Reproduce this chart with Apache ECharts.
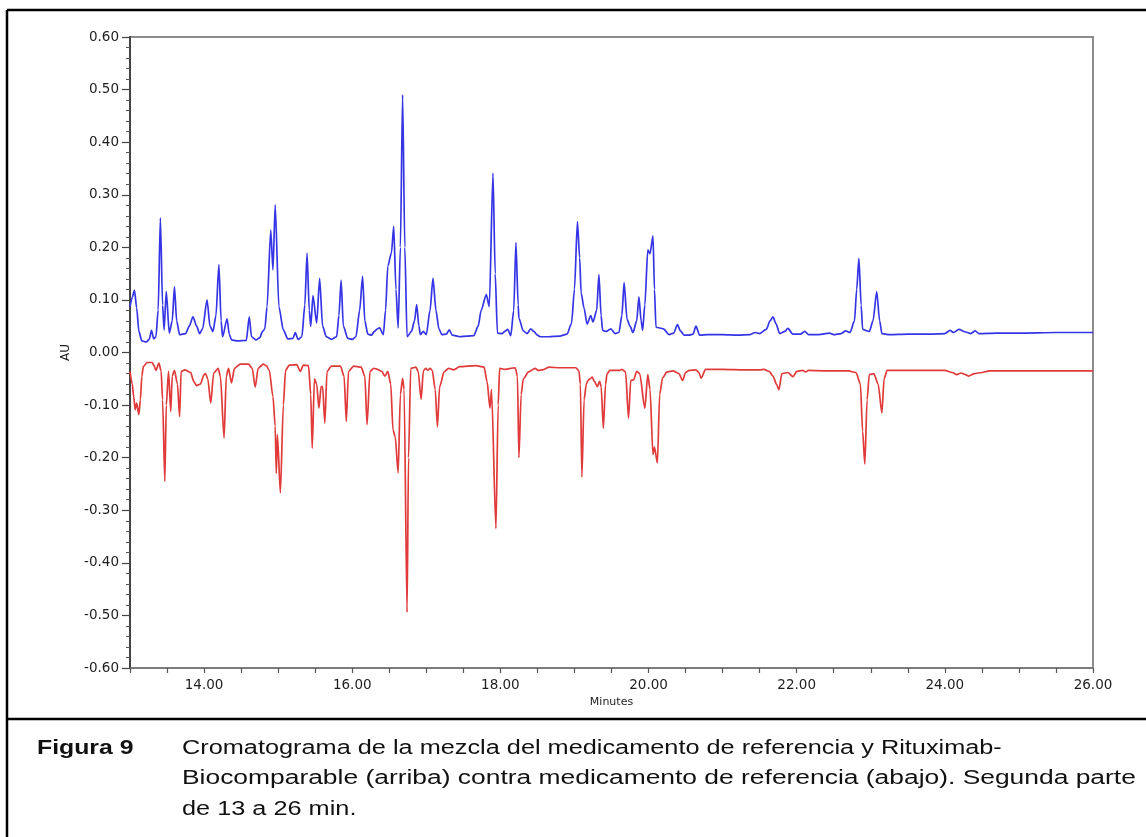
<!DOCTYPE html>
<html>
<head>
<meta charset="utf-8">
<title>Cromatograma</title>
<script src="https://cdn.jsdelivr.net/npm/echarts@6/dist/echarts.min.js"></script>
<style>
  html, body { margin: 0; padding: 0; background: #ffffff; }
  #chart { width: 1146px; height: 837px; }
</style>
</head>
<body>
<div id="chart"></div>
<script>
// Upper trace: mixture of reference product and Rituximab-Biocomparable (time in min, AU)
const mixTime = [
  13.00, 13.03, 13.06, 13.09, 13.12, 13.16, 13.22, 13.26, 13.29, 13.32, 13.35, 13.38, 13.41, 13.44, 13.46,
  13.49, 13.53, 13.57, 13.60, 13.63, 13.67, 13.75, 13.80, 13.85, 13.90, 13.94, 13.98, 14.04, 14.08, 14.12,
  14.16, 14.20, 14.23, 14.25, 14.31, 14.34, 14.37, 14.45, 14.57, 14.61, 14.64, 14.70, 14.75, 14.79, 14.82,
  14.85, 14.90, 14.93, 14.96, 15.01, 15.07, 15.13, 15.20, 15.23, 15.27, 15.32, 15.36, 15.39, 15.42, 15.44,
  15.47, 15.52, 15.56, 15.60, 15.65, 15.72, 15.79, 15.82, 15.85, 15.88, 15.94, 16.00, 16.05, 16.10, 16.14,
  16.17, 16.21, 16.26, 16.30, 16.34, 16.37, 16.42, 16.45, 16.48, 16.53, 16.56, 16.59, 16.62, 16.65, 16.68,
  16.71, 16.74, 16.80, 16.84, 16.87, 16.90, 16.92, 16.96, 17.00, 17.05, 17.09, 17.13, 17.17, 17.21, 17.27,
  17.31, 17.35, 17.45, 17.55, 17.64, 17.70, 17.74, 17.81, 17.85, 17.90, 17.93, 17.96, 18.02, 18.06, 18.10,
  18.14, 18.18, 18.21, 18.24, 18.25, 18.31, 18.36, 18.41, 18.45, 18.50, 18.54, 18.65, 18.80, 18.90, 18.96,
  19.00, 19.04, 19.07, 19.09, 19.13, 19.17, 19.22, 19.25, 19.30, 19.33, 19.36, 19.38, 19.43, 19.49, 19.55,
  19.60, 19.64, 19.67, 19.71, 19.75, 19.79, 19.84, 19.87, 19.90, 19.92, 19.95, 19.99, 20.02, 20.06, 20.08,
  20.10, 20.20, 20.28, 20.34, 20.39, 20.43, 20.48, 20.55, 20.60, 20.64, 20.69, 20.80, 21.00, 21.20, 21.37,
  21.44, 21.50, 21.59, 21.64, 21.68, 21.72, 21.77, 21.84, 21.88, 21.95, 22.05, 22.11, 22.16, 22.30, 22.44,
  22.50, 22.60, 22.66, 22.72, 22.78, 22.81, 22.84, 22.87, 22.89, 22.98, 23.03, 23.08, 23.12, 23.15, 23.25,
  23.50, 23.80, 24.00, 24.07, 24.12, 24.19, 24.28, 24.35, 24.41, 24.46, 24.70, 25.00, 25.50, 26.00
];
const mixAU = [
  0.087, 0.105, 0.118, 0.085, 0.040, 0.022, 0.020, 0.025, 0.042, 0.026, 0.030, 0.080, 0.256, 0.090, 0.043,
  0.116, 0.037, 0.060, 0.125, 0.060, 0.034, 0.036, 0.050, 0.068, 0.050, 0.036, 0.045, 0.100, 0.050, 0.040,
  0.070, 0.167, 0.060, 0.030, 0.064, 0.035, 0.024, 0.022, 0.023, 0.068, 0.030, 0.024, 0.028, 0.040, 0.045,
  0.087, 0.233, 0.157, 0.281, 0.087, 0.043, 0.026, 0.027, 0.038, 0.025, 0.030, 0.090, 0.189, 0.080, 0.050,
  0.108, 0.056, 0.141, 0.050, 0.030, 0.025, 0.030, 0.070, 0.137, 0.050, 0.027, 0.025, 0.030, 0.080, 0.145,
  0.060, 0.035, 0.033, 0.040, 0.045, 0.047, 0.034, 0.080, 0.164, 0.190, 0.240, 0.120, 0.047, 0.200, 0.490,
  0.200, 0.030, 0.040, 0.060, 0.091, 0.050, 0.034, 0.040, 0.034, 0.080, 0.141, 0.080, 0.045, 0.034, 0.035,
  0.043, 0.033, 0.030, 0.031, 0.032, 0.050, 0.080, 0.110, 0.087, 0.341, 0.150, 0.037, 0.036, 0.040, 0.044,
  0.032, 0.080, 0.209, 0.090, 0.065, 0.041, 0.036, 0.045, 0.040, 0.033, 0.030, 0.030, 0.031, 0.035, 0.055,
  0.120, 0.249, 0.180, 0.113, 0.084, 0.054, 0.070, 0.058, 0.080, 0.148, 0.070, 0.042, 0.040, 0.045, 0.036,
  0.038, 0.070, 0.133, 0.063, 0.050, 0.038, 0.060, 0.106, 0.060, 0.042, 0.090, 0.195, 0.188, 0.222, 0.120,
  0.048, 0.045, 0.034, 0.037, 0.053, 0.041, 0.033, 0.033, 0.035, 0.050, 0.033, 0.034, 0.034, 0.033, 0.034,
  0.038, 0.036, 0.044, 0.060, 0.068, 0.055, 0.036, 0.040, 0.046, 0.035, 0.035, 0.040, 0.034, 0.034, 0.037,
  0.034, 0.036, 0.041, 0.038, 0.060, 0.120, 0.179, 0.090, 0.044, 0.040, 0.060, 0.116, 0.060, 0.036, 0.034,
  0.035, 0.035, 0.036, 0.042, 0.038, 0.044, 0.039, 0.036, 0.041, 0.036, 0.037, 0.037, 0.038, 0.038
];

// Lower trace: reference product alone, plotted inverted (time in min, AU)
const refTime = [
  13.00, 13.03, 13.05, 13.07, 13.09, 13.12, 13.14, 13.16, 13.18, 13.23, 13.30, 13.32, 13.35, 13.39, 13.42,
  13.44, 13.47, 13.49, 13.52, 13.55, 13.57, 13.60, 13.64, 13.67, 13.69, 13.74, 13.82, 13.86, 13.90, 13.95,
  14.00, 14.02, 14.05, 14.09, 14.13, 14.19, 14.22, 14.27, 14.30, 14.33, 14.37, 14.41, 14.49, 14.60, 14.65,
  14.69, 14.73, 14.80, 14.84, 14.88, 14.93, 14.96, 14.975, 14.99, 15.03, 15.07, 15.10, 15.15, 15.25, 15.30,
  15.34, 15.41, 15.44, 15.46, 15.49, 15.52, 15.55, 15.58, 15.60, 15.63, 15.66, 15.72, 15.84, 15.89, 15.92,
  15.95, 16.02, 16.12, 16.17, 16.20, 16.24, 16.29, 16.34, 16.40, 16.44, 16.48, 16.52, 16.55, 16.58, 16.62,
  16.65, 16.68, 16.70, 16.74, 16.76, 16.79, 16.86, 16.89, 16.93, 16.96, 16.99, 17.02, 17.05, 17.08, 17.12,
  17.15, 17.18, 17.24, 17.30, 17.37, 17.45, 17.67, 17.78, 17.82, 17.86, 17.88, 17.94, 17.97, 17.99, 18.06,
  18.14, 18.20, 18.23, 18.25, 18.28, 18.31, 18.38, 18.47, 18.51, 18.57, 18.66, 18.80, 19.02, 19.06, 19.08,
  19.10, 19.13, 19.16, 19.18, 19.21, 19.24, 19.27, 19.31, 19.34, 19.36, 19.39, 19.42, 19.44, 19.48, 19.61,
  19.64, 19.69, 19.73, 19.76, 19.80, 19.84, 19.88, 19.95, 19.99, 20.02, 20.06, 20.08, 20.12, 20.15, 20.19,
  20.25, 20.33, 20.41, 20.46, 20.50, 20.55, 20.64, 20.68, 20.71, 20.77, 21.00, 21.30, 21.50, 21.56, 21.63,
  21.68, 21.73, 21.76, 21.80, 21.88, 21.95, 22.00, 22.08, 22.12, 22.16, 22.40, 22.70, 22.80, 22.86, 22.89,
  22.92, 22.95, 22.98, 23.04, 23.10, 23.15, 23.18, 23.22, 23.50, 24.00, 24.10, 24.16, 24.22, 24.28, 24.32,
  24.40, 24.50, 24.60, 25.00, 26.00
];
const refAU = [
  -0.036, -0.060, -0.084, -0.109, -0.096, -0.118, -0.090, -0.045, -0.027, -0.019, -0.019, -0.024, -0.034, -0.020, -0.035,
  -0.090, -0.245, -0.100, -0.036, -0.112, -0.045, -0.034, -0.060, -0.122, -0.036, -0.033, -0.038, -0.055, -0.063, -0.060,
  -0.042, -0.040, -0.050, -0.096, -0.039, -0.030, -0.045, -0.163, -0.045, -0.030, -0.058, -0.030, -0.022, -0.022, -0.030,
  -0.066, -0.030, -0.022, -0.025, -0.034, -0.084, -0.140, -0.230, -0.156, -0.267, -0.100, -0.034, -0.024, -0.023, -0.036,
  -0.024, -0.025, -0.080, -0.182, -0.050, -0.060, -0.106, -0.065, -0.065, -0.134, -0.036, -0.026, -0.026, -0.045, -0.131,
  -0.036, -0.026, -0.028, -0.045, -0.137, -0.036, -0.030, -0.032, -0.036, -0.045, -0.036, -0.060, -0.147, -0.160, -0.229,
  -0.080, -0.049, -0.070, -0.494, -0.200, -0.030, -0.028, -0.036, -0.089, -0.035, -0.030, -0.034, -0.030, -0.034, -0.070,
  -0.141, -0.065, -0.037, -0.030, -0.033, -0.027, -0.025, -0.028, -0.055, -0.106, -0.070, -0.335, -0.100, -0.030, -0.032,
  -0.030, -0.029, -0.045, -0.200, -0.080, -0.050, -0.037, -0.030, -0.034, -0.033, -0.028, -0.029, -0.029, -0.035, -0.060,
  -0.237, -0.090, -0.060, -0.054, -0.050, -0.047, -0.055, -0.065, -0.055, -0.065, -0.144, -0.060, -0.040, -0.034, -0.034,
  -0.032, -0.037, -0.125, -0.053, -0.052, -0.036, -0.040, -0.106, -0.042, -0.070, -0.194, -0.180, -0.210, -0.080, -0.048,
  -0.037, -0.035, -0.040, -0.053, -0.038, -0.034, -0.033, -0.038, -0.049, -0.032, -0.032, -0.033, -0.033, -0.032, -0.036,
  -0.045, -0.061, -0.071, -0.040, -0.038, -0.046, -0.036, -0.034, -0.037, -0.034, -0.035, -0.035, -0.038, -0.060, -0.150,
  -0.212, -0.090, -0.042, -0.040, -0.060, -0.115, -0.050, -0.034, -0.034, -0.034, -0.038, -0.042, -0.039, -0.042, -0.045,
  -0.040, -0.038, -0.035, -0.035, -0.035
];

// Axis ranges and caption text
const timeRange = [13, 26];
const auRange = [-0.6, 0.6];
const captionLabel = 'Figura 9';
const captionLines = [
  'Cromatograma de la mezcla del medicamento de referencia y Rituximab-',
  'Biocomparable (arriba) contra medicamento de referencia (abajo). Segunda parte',
  'de 13 a 26 min.'
];
// Horizontal stretch per caption line (second line is justified to the right margin)
const captionStretch = [1.265, 1.32, 1.265];

const zip = (xs, ys) => xs.map((x, i) => [x, ys[i]]);

const chart = echarts.init(document.getElementById('chart'), null, { renderer: 'canvas' });

const axisFont = '"DejaVu Sans", sans-serif';
const capFont = '"Liberation Sans", Arial, sans-serif';

const frameStroke = { stroke: '#000', lineWidth: 2.5 };
const graphic = [
  { type: 'line', shape: { x1: 7, y1: 10, x2: 1146, y2: 10 }, style: frameStroke, silent: true },
  { type: 'line', shape: { x1: 7, y1: 10, x2: 7, y2: 837 }, style: frameStroke, silent: true },
  { type: 'line', shape: { x1: 7, y1: 719, x2: 1146, y2: 719 }, style: frameStroke, silent: true },
  {
    type: 'text', x: 37, y: 748, scaleX: 1.24, silent: true,
    style: { text: captionLabel, font: 'bold 20px ' + capFont, fill: '#111', verticalAlign: 'middle' }
  }
];
captionLines.forEach((line, i) => {
  graphic.push({
    type: 'text', x: 182, y: 748 + i * 30.5, scaleX: captionStretch[i], silent: true,
    style: { text: line, font: '20px ' + capFont, fill: '#111', verticalAlign: 'middle' }
  });
});

const option = {
  animation: false,
  backgroundColor: '#ffffff',
  grid: {
    left: 130, right: 53, top: 37, bottom: 169,
    show: true, borderColor: '#8c8c8c', borderWidth: 2, backgroundColor: 'transparent',
    containLabel: false, outerBoundsMode: 'none'
  },
  xAxis: {
    type: 'value',
    min: timeRange[0], max: timeRange[1], interval: 0.5,
    name: 'Minutes', nameLocation: 'middle', nameGap: 25,
    nameTextStyle: { fontFamily: axisFont, fontSize: 11, color: '#222' },
    axisLine: { show: true, onZero: false, lineStyle: { color: '#777', width: 1.5 } },
    axisTick: { show: true, length: 5, lineStyle: { color: '#555', width: 1.2 } },
    axisLabel: {
      margin: 10, fontFamily: axisFont, fontSize: 13.5, color: '#1e1e1e',
      formatter: v => (Math.abs(v % 2) < 1e-9 ? v.toFixed(2) : '')
    },
    splitLine: { show: false }
  },
  yAxis: {
    type: 'value',
    min: auRange[0], max: auRange[1], interval: 0.1,
    name: 'AU', nameLocation: 'middle', nameGap: 58, nameRotate: 90,
    nameTextStyle: { fontFamily: axisFont, fontSize: 12, color: '#222' },
    axisLine: { show: true, onZero: false, lineStyle: { color: '#444', width: 2 } },
    axisTick: { show: true, length: 8, lineStyle: { color: '#444', width: 1.2 } },
    minorTick: { show: true, splitNumber: 5, length: 4, lineStyle: { color: '#555', width: 1 } },
    axisLabel: {
      margin: 11, fontFamily: axisFont, fontSize: 13.5, color: '#1e1e1e',
      formatter: v => (Math.abs(v) < 1e-9 ? 0 : v).toFixed(2)
    },
    splitLine: { show: false }
  },
  series: [
    {
      name: 'Mezcla', type: 'line', data: zip(mixTime, mixAU),
      showSymbol: false, smooth: 0.25, smoothMonotone: 'x',
      lineStyle: { color: '#3535e6', width: 1.7 }
    },
    {
      name: 'Referencia', type: 'line', data: zip(refTime, refAU),
      showSymbol: false, smooth: 0.25, smoothMonotone: 'x',
      lineStyle: { color: '#e03a3a', width: 1.7 }
    }
  ],
  graphic: graphic
};

chart.setOption(option);
</script>
</body>
</html>
